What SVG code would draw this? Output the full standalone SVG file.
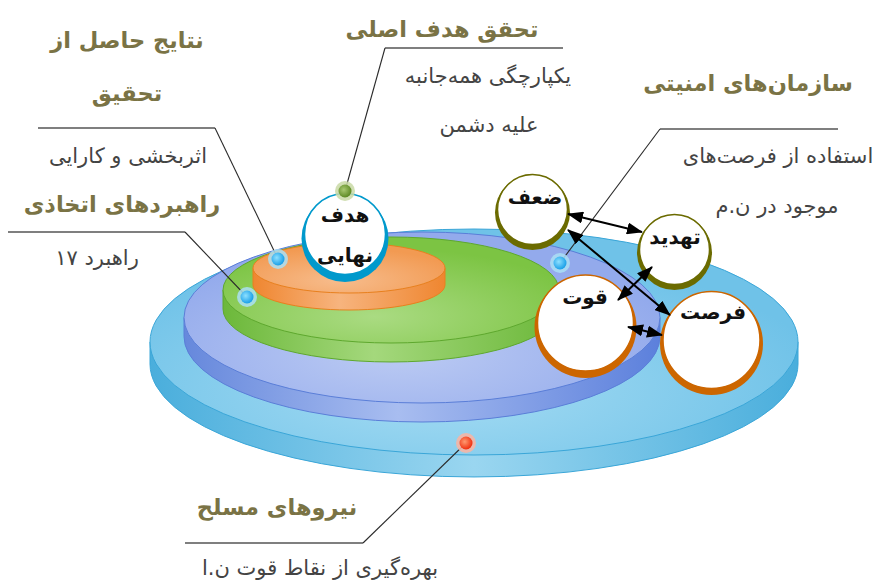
<svg xmlns="http://www.w3.org/2000/svg" width="875" height="583" viewBox="0 0 875 583">
<style>
.t{font-family:"DejaVu Sans",sans-serif;text-anchor:middle;direction:rtl;}
.title{font-size:22.5px;font-weight:bold;fill:#7a7345;}
.sub{font-size:21px;fill:#444;}
.lab{font-size:20px;font-weight:bold;fill:#111;}
.lead{fill:none;stroke:#2a2a2a;stroke-width:1.1;}
.ul{fill:none;stroke:#555;stroke-width:1.6;}
.arr{stroke:#000;stroke-width:2;marker-start:url(#ah);marker-end:url(#ah);}
</style>
<defs>
<marker id="ah" viewBox="0 0 16 12" refX="15" refY="6" markerWidth="16" markerHeight="12" markerUnits="userSpaceOnUse" orient="auto-start-reverse"><path d="M0,0 L16,6 L0,12 Z" fill="#000"/></marker>
<linearGradient id="gBlueSide" x1="0" x2="1" y1="0" y2="0"><stop offset="0" stop-color="#4aaedc"/><stop offset="0.5" stop-color="#9ad6f0"/><stop offset="1" stop-color="#4aaedc"/></linearGradient>
<radialGradient id="gBlueTop" cx="0.45" cy="0.7" r="0.6"><stop offset="0" stop-color="#a6dcf3"/><stop offset="1" stop-color="#6fc2e8"/></radialGradient>
<linearGradient id="gPerSide" x1="0" x2="1" y1="0" y2="0"><stop offset="0" stop-color="#6688dc"/><stop offset="0.45" stop-color="#a8bdf0"/><stop offset="1" stop-color="#5c80dc"/></linearGradient>
<radialGradient id="gPerTop" cx="0.45" cy="0.7" r="0.6"><stop offset="0" stop-color="#bccbf3"/><stop offset="1" stop-color="#93aaec"/></radialGradient>
<linearGradient id="gGrnSide" x1="0" x2="1" y1="0" y2="0"><stop offset="0" stop-color="#6cb83a"/><stop offset="0.45" stop-color="#a4d87c"/><stop offset="1" stop-color="#6cb83a"/></linearGradient>
<radialGradient id="gGrnTop" cx="0.45" cy="0.75" r="0.65"><stop offset="0" stop-color="#aadb82"/><stop offset="1" stop-color="#7cc443"/></radialGradient>
<linearGradient id="gOrSide" x1="0" x2="1" y1="0" y2="0"><stop offset="0" stop-color="#ef8630"/><stop offset="0.45" stop-color="#f7b47e"/><stop offset="1" stop-color="#ef8630"/></linearGradient>
<radialGradient id="gOrTop" cx="0.45" cy="0.75" r="0.65"><stop offset="0" stop-color="#f7bc8c"/><stop offset="1" stop-color="#f29a52"/></radialGradient>
<radialGradient id="dBlue" cx="0.4" cy="0.4" r="0.6"><stop offset="0" stop-color="#8ee0ff"/><stop offset="1" stop-color="#1aa0e8"/></radialGradient>
<radialGradient id="dGrn" cx="0.4" cy="0.4" r="0.6"><stop offset="0" stop-color="#a8c870"/><stop offset="1" stop-color="#5e8a24"/></radialGradient>
<radialGradient id="dRed" cx="0.4" cy="0.4" r="0.6"><stop offset="0" stop-color="#ff9a70"/><stop offset="1" stop-color="#f03010"/></radialGradient>
</defs>

<g id="disc-outer">
<path d="M150,342 L150,364 A324,113 0 0 0 798,364 L798,342 Z" fill="url(#gBlueSide)" stroke="#3aa6d8" stroke-width="1"/>
<ellipse cx="474" cy="342" rx="324" ry="113" fill="url(#gBlueTop)" stroke="#3aa6d8" stroke-width="1"/>
</g>
<g id="disc-blue">
<path d="M184,317.5 L184,336.5 A238,85.5 0 0 0 660,336.5 L660,317.5 Z" fill="url(#gPerSide)" stroke="#5a7ed8" stroke-width="1"/>
<ellipse cx="422" cy="317.5" rx="238" ry="85.5" fill="url(#gPerTop)" stroke="#5a7ed8" stroke-width="1"/>
</g>
<g id="disc-green">
<path d="M223,290 L223,309 A168,53 0 0 0 559,309 L559,290 Z" fill="url(#gGrnSide)" stroke="#5ea82e" stroke-width="1"/>
<ellipse cx="391" cy="290" rx="168" ry="53" fill="url(#gGrnTop)" stroke="#5ea82e" stroke-width="1"/>
</g>
<g id="disc-orange">
<path d="M253,268 L253,285 A96,25 0 0 0 445,285 L445,268 Z" fill="url(#gOrSide)" stroke="#e8801e" stroke-width="1"/>
<ellipse cx="349" cy="268" rx="96" ry="25" fill="url(#gOrTop)" stroke="#e8801e" stroke-width="1"/>
</g>

<g id="connectors">
<polyline class="ul" points="385,48 563,48"/>
<polyline class="lead" points="385,48 345,191"/>
<polyline class="ul" points="38,128 215,128"/>
<polyline class="lead" points="215,128 278,259"/>
<polyline class="ul" points="8,232 185,232"/>
<polyline class="lead" points="185,232 247,297"/>
<polyline class="ul" points="660,129 838,129"/>
<polyline class="lead" points="660,129 560,263"/>
<polyline class="ul" points="185,543 363,543"/>
<polyline class="lead" points="363,543 466,443"/>
</g>

<g id="node-goal">
<circle cx="345" cy="238.5" r="43.5" fill="#0099cc"/>
<circle cx="345" cy="234" r="40.5" fill="#fff" stroke="#0099cc" stroke-width="1.5"/>
<text class="t lab" x="345" y="222">هدف</text>
<text class="t lab" x="345" y="262">نهایی</text>
</g>

<g id="node-weak">
<circle cx="532.5" cy="212.5" r="37.5" fill="#6b6b00"/>
<circle cx="532.5" cy="209.5" r="35" fill="#fff" stroke="#6b6b00" stroke-width="1.5"/>
<text class="t lab" x="535" y="204">ضعف</text>
</g>
<g id="node-threat">
<circle cx="674.5" cy="252.5" r="37.5" fill="#6b6b00"/>
<circle cx="674.5" cy="249.5" r="35" fill="#fff" stroke="#6b6b00" stroke-width="1.5"/>
<text class="t lab" x="675" y="244">تهدید</text>
</g>
<g id="node-strength">
<circle cx="585.5" cy="327" r="51" fill="#cc6600"/>
<circle cx="585.5" cy="323" r="48" fill="#fff" stroke="#cc6600" stroke-width="1.5"/>
<text class="t lab" x="585" y="304">قوت</text>
</g>
<g id="node-opportunity">
<circle cx="711.5" cy="343.5" r="51.5" fill="#cc6600"/>
<circle cx="711.5" cy="340" r="48.5" fill="#fff" stroke="#cc6600" stroke-width="1.5"/>
<text class="t lab" x="713" y="319">فرصت</text>
</g>

<g id="arrows">
<line class="arr" x1="568" y1="214" x2="642" y2="232"/>
<line class="arr" x1="568" y1="230" x2="670" y2="315"/>
<line class="arr" x1="652" y1="267" x2="618" y2="300"/>
<line class="arr" x1="628" y1="327" x2="662" y2="335"/>
</g>

<g id="dots">
<circle cx="345" cy="191" r="10" fill="#c9d9a6" opacity="0.85"/>
<circle cx="345" cy="191" r="6.5" fill="url(#dGrn)"/>
<circle cx="278" cy="259" r="10" fill="#aadff5" opacity="0.85"/>
<circle cx="278" cy="259" r="6.5" fill="url(#dBlue)"/>
<circle cx="247" cy="297" r="10" fill="#aadff5" opacity="0.85"/>
<circle cx="247" cy="297" r="6.5" fill="url(#dBlue)"/>
<circle cx="560" cy="263" r="10" fill="#aadff5" opacity="0.85"/>
<circle cx="560" cy="263" r="6.5" fill="url(#dBlue)"/>
<circle cx="466" cy="443" r="10" fill="#f5b5a5" opacity="0.9"/>
<circle cx="466" cy="443" r="6.5" fill="url(#dRed)"/>
</g>

<g id="label-results">
<text class="t title" x="127" y="48">نتایج حاصل از</text>
<text class="t title" x="127" y="101">تحقیق</text>
<text class="t sub" x="128" y="163">اثربخشی و کارایی</text>
</g>
<g id="label-strategies">
<text class="t title" x="122" y="212">راهبردهای اتخاذی</text>
<text class="t sub" x="97" y="265">راهبرد ۱۷</text>
</g>
<g id="label-goal">
<text class="t title" x="442" y="37">تحقق هدف اصلی</text>
<text class="t sub" x="488" y="83">یکپارچگی همه‌جانبه</text>
<text class="t sub" x="489" y="132">علیه دشمن</text>
</g>
<g id="label-security">
<text class="t title" x="748" y="91">سازمان‌های امنیتی</text>
<text class="t sub" x="778" y="163">استفاده از فرصت‌های</text>
<text class="t sub" x="777" y="213">موجود در ن.م</text>
</g>
<g id="label-forces">
<text class="t title" x="277" y="515">نیروهای مسلح</text>
<text class="t sub" x="320" y="575">بهره‌گیری از نقاط قوت ن.ا</text>
</g>
</svg>
